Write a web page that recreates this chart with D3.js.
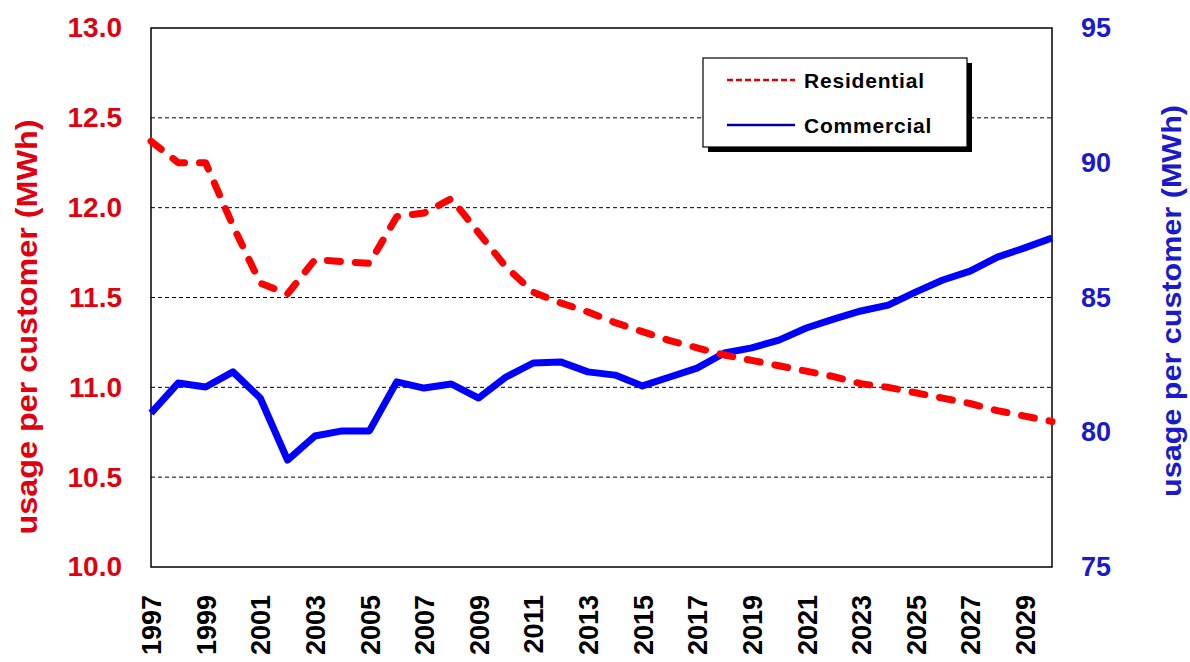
<!DOCTYPE html>
<html><head><meta charset="utf-8">
<script src="https://cdn.jsdelivr.net/npm/d3@7"></script>
<style>body{margin:0;background:#fff}svg{display:block}text{font-family:"Liberation Sans",Arial,sans-serif;font-weight:bold}</style>
</head><body><svg id="c" width="1190" height="662"></svg>
<script>
const years = d3.range(1997, 2031);
const residential = [12.37,12.25,12.25,11.90,11.58,11.52,11.71,11.70,11.69,11.95,11.97,12.05,11.86,11.67,11.53,11.47,11.42,11.36,11.31,11.26,11.22,11.18,11.15,11.12,11.09,11.06,11.02,11.00,10.97,10.94,10.91,10.87,10.84,10.81];
const commercial = [80.71,81.83,81.68,82.24,81.27,78.97,79.86,80.05,80.05,81.87,81.64,81.79,81.27,82.05,82.57,82.61,82.24,82.12,81.72,82.05,82.38,82.94,83.13,83.42,83.87,84.20,84.50,84.72,85.20,85.65,85.98,86.50,86.84,87.21];
const leftTicks = [10.0,10.5,11.0,11.5,12.0,12.5,13.0];
const rightTicks = [75,80,85,90,95];
const xTicks = d3.range(1997, 2030, 2);
const seriesNames = ["Residential","Commercial"];
const axisTitle = "usage per customer (MWh)";

const svg = d3.select("#c");
const L = 151, R = 1052, T = 28, B = 567;
const x = d3.scaleLinear().domain([1997, 2030]).range([L, R]);
const yL = d3.scaleLinear().domain([10, 13]).range([B, T]);
const yR = d3.scaleLinear().domain([75, 95]).range([B, T]);
const RED = "#ff0000", BLUE = "#0000ff", RTXT = "#e00010", BTXT = "#1a1acc";

// gridlines
svg.append("g").selectAll("line").data(leftTicks.filter(v => v > 10 && v < 13)).join("line")
  .attr("x1", L).attr("x2", R).attr("y1", d => yL(d)).attr("y2", d => yL(d))
  .attr("stroke", "#000").attr("stroke-width", 1).attr("stroke-dasharray", "4,3");

// left axis
const gl = svg.append("g").attr("transform", `translate(${L},0)`)
  .call(d3.axisLeft(yL).tickValues(leftTicks).tickFormat(d3.format(".1f")).tickSize(0).tickPadding(29));
gl.select(".domain").remove();
gl.selectAll("text").attr("fill", RTXT).style("font-size", "28px").attr("font-family", null);

// right axis
const gr = svg.append("g").attr("transform", `translate(${R},0)`)
  .call(d3.axisRight(yR).tickValues(rightTicks).tickFormat(d3.format("d")).tickSize(0).tickPadding(29));
gr.select(".domain").remove();
gr.selectAll("text").attr("fill", BTXT).style("font-size", "27px").attr("font-family", null);

// x axis
const gx = svg.append("g").attr("transform", `translate(0,${B})`)
  .call(d3.axisBottom(x).tickValues(xTicks).tickFormat(d3.format("d")).tickSize(0));
gx.select(".domain").remove();
gx.selectAll("text").attr("fill", "#000").style("font-size", "27px").attr("font-family", null)
  .attr("text-anchor", "end").attr("transform", "rotate(-90)").attr("x", -28).attr("y", 0).attr("dy", "0.36em");

// plot border
svg.append("rect").attr("x", L).attr("y", T).attr("width", R - L).attr("height", B - T)
  .attr("fill", "none").attr("stroke", "#000").attr("stroke-width", 1.5);

// lines
const lineR = d3.line().x((d, i) => x(years[i])).y(d => yL(d));
const lineC = d3.line().x((d, i) => x(years[i])).y(d => yR(d));
svg.append("path").datum(commercial).attr("d", lineC).attr("fill", "none")
  .attr("stroke", BLUE).attr("stroke-width", 7).attr("stroke-linejoin", "round");
svg.append("path").datum(residential).attr("d", lineR).attr("fill", "none")
  .attr("stroke", RED).attr("stroke-width", 7).attr("stroke-linecap", "round")
  .attr("stroke-linejoin", "round").attr("stroke-dasharray", "13,15");

// axis titles
svg.append("text").attr("transform", "translate(37,327) rotate(-90)").attr("text-anchor", "middle")
  .attr("fill", RTXT).style("font-size", "30px").attr("textLength", 415).attr("lengthAdjust", "spacingAndGlyphs")
  .text(axisTitle);
svg.append("text").attr("transform", "translate(1181,301) rotate(-90)").attr("text-anchor", "middle")
  .attr("fill", BTXT).style("font-size", "28px").attr("textLength", 392).attr("lengthAdjust", "spacingAndGlyphs")
  .text(axisTitle);

// legend
const lg = svg.append("g").attr("transform", "translate(703,58)");
lg.append("rect").attr("x", 5).attr("y", 5).attr("width", 264).attr("height", 89).attr("fill", "#000");
lg.append("rect").attr("width", 264).attr("height", 89).attr("fill", "#fff").attr("stroke", "#000").attr("stroke-width", 1.2);
const legItems = [
  {name: seriesNames[0], color: "#dd0000", dash: "6,3", y: 22},
  {name: seriesNames[1], color: "#0000aa", dash: null, y: 67}
];
legItems.forEach(it => {
  lg.append("line").attr("x1", 24).attr("x2", 92).attr("y1", it.y).attr("y2", it.y)
    .attr("stroke", it.color).attr("stroke-width", 2.5).attr("stroke-dasharray", it.dash);
  lg.append("text").attr("x", 101).attr("y", it.y).attr("dy", "0.36em").attr("fill", "#000")
    .style("font-size", "21px").style("letter-spacing", "0.8px").text(it.name);
});
</script></body></html>
